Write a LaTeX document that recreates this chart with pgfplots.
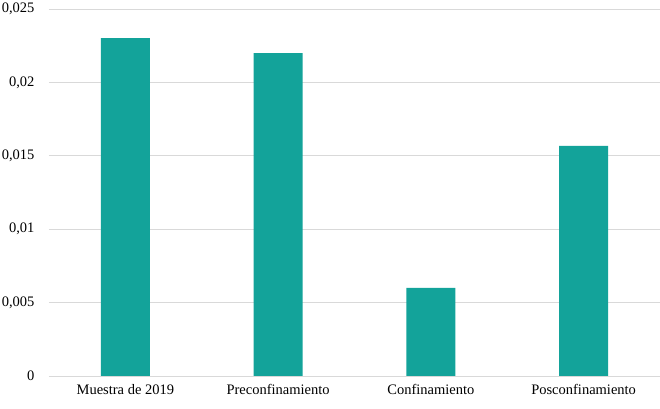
\documentclass[border=0pt]{standalone}
\usepackage{pgfplots}
\pgfplotsset{compat=1.18}
\usepackage{fontspec}
\setmainfont{Liberation Serif}
\definecolor{barc}{HTML}{13A39A}
\definecolor{gridc}{HTML}{D9D9D9}
\begin{document}
\begin{tikzpicture}
\useasboundingbox (-49bp,-33bp) rectangle (611bp,376bp);
\begin{axis}[
  at={(0,0)}, anchor=south west,
  scale only axis, width=611bp, height=367bp,
  xmin=-0.5, xmax=3.5, ymin=0, ymax=0.025,
  ybar, bar width=49bp,
  axis line style={draw=none},
  ymajorgrids, xmajorgrids=false, grid style={draw=gridc, line width=0.8pt},
  major tick length=0pt,
  xtick={0,1,2,3},
  xticklabels={Muestra de 2019, Preconfinamiento, Confinamiento, Posconfinamiento},
  ytick={0,0.005,0.01,0.015,0.02,0.025},
  /pgf/number format/fixed, /pgf/number format/precision=3,
  /pgf/number format/use comma, /pgf/number format/assume math mode=true,
  scaled y ticks=false,
  tick label style={font=\fontsize{14.5bp}{16bp}\selectfont},
  yticklabel style={anchor=east, xshift=-11bp},
  xticklabel style={yshift=-5bp},
]
\addplot[fill=barc, draw=none] coordinates {(0,0.02302) (1,0.0220) (2,0.0060) (3,0.01567)};
\draw[gridc, line width=0.8pt] (axis cs:-0.5,0) -- (axis cs:3.5,0);
\end{axis}
\end{tikzpicture}
\end{document}
